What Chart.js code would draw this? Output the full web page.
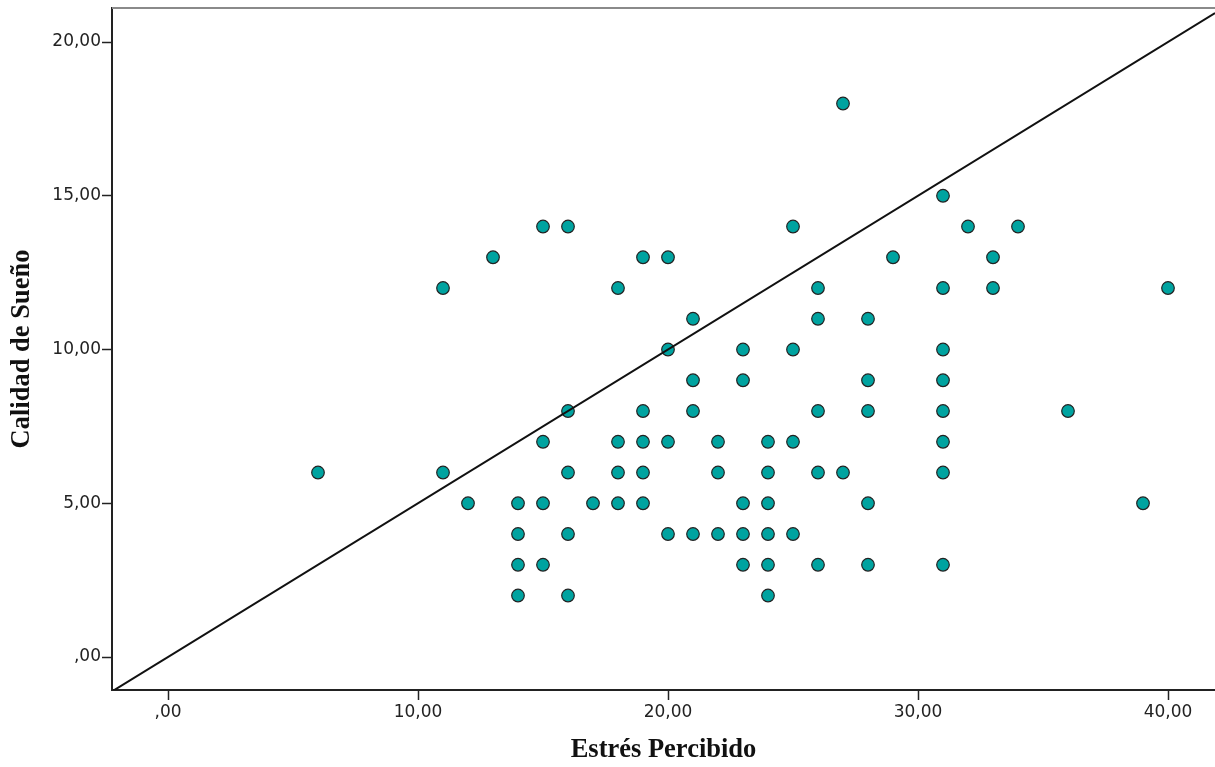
<!DOCTYPE html>
<html>
<head>
<meta charset="utf-8">
<script src="https://cdn.jsdelivr.net/npm/chart.js@4/dist/chart.umd.min.js"></script>
<style>
  html, body { margin: 0; padding: 0; background: #fff; }
  #wrap { width: 1215px; height: 767px; }
</style>
</head>
<body>
<div id="wrap"><canvas id="scatter" width="1215" height="767"></canvas></div>
<script>
// Estrés Percibido (x) / Calidad de Sueño (y), un punto por caso
const estres = [
    6,
    11, 11,
    12,
    13,
    14, 14, 14, 14,
    15, 15, 15, 15,
    16, 16, 16, 16, 16,
    17,
    18, 18, 18, 18,
    19, 19, 19, 19, 19,
    20, 20, 20, 20,
    21, 21, 21, 21,
    22, 22, 22,
    23, 23, 23, 23, 23,
    24, 24, 24, 24, 24, 24,
    25, 25, 25, 25,
    26, 26, 26, 26, 26,
    27, 27,
    28, 28, 28, 28, 28,
    29,
    31, 31, 31, 31, 31, 31, 31, 31,
    32,
    33, 33,
    34,
    36,
    39,
    40
];
const calidad = [
    6,
    12, 6,
    5,
    13,
    5, 4, 3, 2,
    14, 7, 5, 3,
    14, 8, 6, 4, 2,
    5,
    12, 7, 6, 5,
    13, 8, 7, 6, 5,
    13, 10, 7, 4,
    11, 9, 8, 4,
    7, 6, 4,
    10, 9, 5, 4, 3,
    7, 6, 5, 4, 3, 2,
    14, 10, 7, 4,
    12, 11, 8, 6, 3,
    18, 6,
    11, 9, 8, 5, 3,
    13,
    15, 12, 10, 9, 8, 7, 6, 3,
    14,
    13, 12,
    14,
    8,
    5,
    12
];

// Ticks des axes
const xTicks = [0, 10, 20, 30, 40];
const xTickLabels = [',00', '10,00', '20,00', '30,00', '40,00'];
const yTicks = [0, 5, 10, 15, 20];
const yTickLabels = [',00', '5,00', '10,00', '15,00', '20,00'];

// Bornes des axes et pente de la ligne de référence
const xRange = [-2.24, 41.88];
const yRange = [-1.073, 21.106];
const refSlope = 0.5;

const points = estres.map((x, i) => ({ x: x, y: calidad[i] }));
const refLine = xRange.map(x => ({ x: x, y: x * refSlope }));

const tickFont = { family: '"DejaVu Sans", sans-serif', size: 17 };
const titleFont = { family: '"Liberation Serif", "Times New Roman", serif', size: 26.5, weight: 'bold', lineHeight: 1.2 };

// Cadre supérieur gris
const topFrame = {
    id: 'topFrame',
    afterDraw(chart) {
        const { ctx, chartArea } = chart;
        ctx.save();
        ctx.strokeStyle = '#8a8a8a';
        ctx.lineWidth = 2;
        ctx.beginPath();
        ctx.moveTo(chartArea.left, chartArea.top);
        ctx.lineTo(chartArea.right, chartArea.top);
        ctx.stroke();
        ctx.restore();
    }
};

const ctx = document.getElementById('scatter').getContext('2d');
new Chart(ctx, {
    type: 'scatter',
    data: {
        datasets: [
            {
                type: 'line',
                label: 'Referencia',
                data: refLine,
                borderColor: '#111',
                borderWidth: 2,
                pointRadius: 0,
                fill: false,
                order: 0
            },
            {
                label: 'Casos',
                data: points,
                backgroundColor: '#00a3a0',
                borderColor: '#222',
                borderWidth: 1.2,
                pointRadius: 6.3,
                order: 1
            }
        ]
    },
    options: {
        responsive: false,
        animation: false,
        layout: { autoPadding: false, padding: { top: 8, right: 0, left: 0, bottom: 0 } },
        plugins: {
            legend: { display: false },
            tooltip: { enabled: false }
        },
        scales: {
            x: {
                type: 'linear',
                min: xRange[0],
                max: xRange[1],
                afterBuildTicks: scale => { scale.ticks = xTicks.map(v => ({ value: v })); },
                afterFit: scale => {
                    scale.height = 77;
                    scale.paddingLeft = 0;
                    scale.paddingRight = 0;
                },
                ticks: {
                    font: tickFont,
                    color: '#222',
                    padding: 2,
                    maxRotation: 0,
                    callback: (v) => xTickLabels[xTicks.indexOf(v)]
                },
                grid: { drawOnChartArea: false, drawTicks: true, tickLength: 10, tickColor: '#222', tickWidth: 1.5 },
                border: { display: true, color: '#222', width: 2 },
                title: {
                    display: true,
                    text: 'Estrés Percibido',
                    font: titleFont,
                    color: '#111',
                    padding: { top: 0, bottom: 1 }
                }
            },
            y: {
                type: 'linear',
                min: yRange[0],
                max: yRange[1],
                afterBuildTicks: scale => { scale.ticks = yTicks.map(v => ({ value: v })); },
                afterFit: scale => {
                    scale.width = 112;
                    scale.paddingTop = 0;
                    scale.paddingBottom = 0;
                },
                ticks: {
                    font: tickFont,
                    color: '#222',
                    padding: 1,
                    callback: (v) => yTickLabels[yTicks.indexOf(v)]
                },
                grid: { drawOnChartArea: false, drawTicks: true, tickLength: 10, tickColor: '#222', tickWidth: 1.5 },
                border: { display: true, color: '#222', width: 2 },
                title: {
                    display: true,
                    text: 'Calidad de Sueño',
                    font: titleFont,
                    color: '#111',
                    padding: { top: 6, bottom: 0 }
                }
            }
        }
    },
    plugins: [topFrame]
});
</script>
</body>
</html>
